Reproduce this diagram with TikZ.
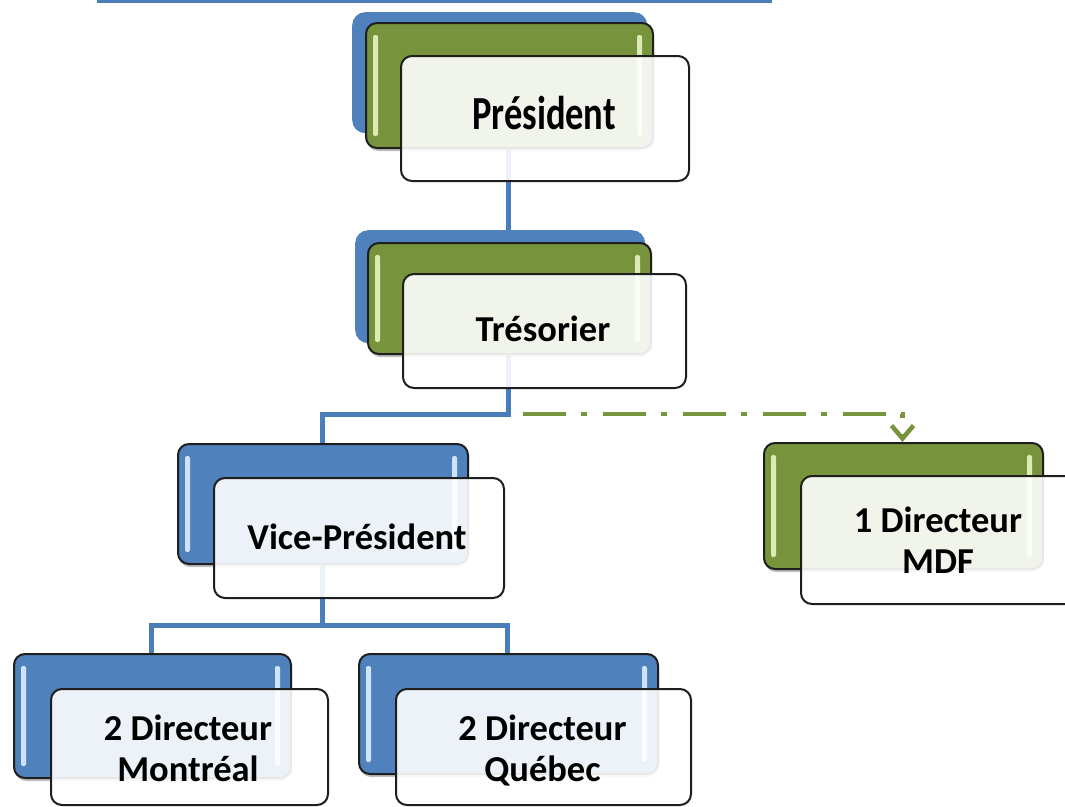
\documentclass[tikz,border=0pt]{standalone}
\usepackage{graphicx}
\usepackage{fontspec}
\setmainfont{Carlito}
\usetikzlibrary{arrows.meta,shadows}
\definecolor{orgblue}{HTML}{4F81BD}
\definecolor{orggreen}{HTML}{77933C}
\definecolor{linkblue}{HTML}{4A7EBB}
\definecolor{edgedark}{HTML}{1E1E1E}
\definecolor{glossgreen}{HTML}{DCEBB4}
\definecolor{glossblue}{HTML}{CFE2F6}
\tikzset{
  boxbase/.style={anchor=north west, inner sep=0pt, rounded corners=11pt},
  shadowbox/.style={boxbase, fill=orgblue, draw=none, rounded corners=13pt},
  colourbox/.style={boxbase, draw=edgedark, line width=2pt,
    drop shadow={shadow xshift=1pt, shadow yshift=-3pt, opacity=0.25, fill=black}},
  bluebox/.style={colourbox, fill=orgblue,
    path picture={
      \fill[glossblue, rounded corners=2pt] ([xshift=7pt,yshift=-12pt]path picture bounding box.north west) rectangle ([xshift=12pt,yshift=12pt]path picture bounding box.south west);
      \fill[glossblue, rounded corners=2pt] ([xshift=-16pt,yshift=-12pt]path picture bounding box.north east) rectangle ([xshift=-11pt,yshift=12pt]path picture bounding box.south east);}},
  greenbox/.style={colourbox, fill=orggreen,
    path picture={
      \fill[glossgreen, rounded corners=2pt] ([xshift=7pt,yshift=-12pt]path picture bounding box.north west) rectangle ([xshift=12pt,yshift=12pt]path picture bounding box.south west);
      \fill[glossgreen, rounded corners=2pt] ([xshift=-16pt,yshift=-12pt]path picture bounding box.north east) rectangle ([xshift=-11pt,yshift=12pt]path picture bounding box.south east);}},
  whitebox/.style={boxbase, fill=white, fill opacity=0.9, draw=edgedark, line width=2pt},
  boxtext/.style={anchor=base, inner sep=0pt, text=black,
    font=\bfseries\fontsize{36.5}{41}\selectfont},
  orglink/.style={draw=linkblue, line width=5pt},
  dashlink/.style={draw=orggreen, line width=4.5pt,
    dash pattern=on 43pt off 15pt on 6pt off 16pt, dash phase=66pt},
}
\begin{document}
\begin{tikzpicture}[x=1pt,y=-1pt]
\useasboundingbox (0,0) rectangle (1065,806);
\clip (0,0) rectangle (1065,806);

% header rule
\coordinate (ruleL) at (97,1.5);
\coordinate (ruleR) at (772,1.5);
\draw[linkblue, line width=3pt] (ruleL) -- (ruleR);

% back (shadow) boxes
\node[shadowbox, minimum width=295pt, minimum height=121pt] (pb) at (352,12) {};
\node[shadowbox, minimum width=290pt, minimum height=113pt] (tb) at (355,230) {};

\path (365,22) coordinate (pgpos) (367,242) coordinate (tgpos);

% connectors (behind boxes)
\path (508.5,147) coordinate (pgS) (508.5,353) coordinate (tgS);
\draw[orglink] (pgS) -- (pgS |- tb.north);
\draw[orglink] (tgS) -- (508.5,414) coordinate (tj) -| (322,443) coordinate (vbN);
\draw[orglink] (322,563) coordinate (vbS) -- (322,625) coordinate (vj) -| (151.5,653) coordinate (mbN);
\draw[orglink] (vj) -| (507.5,653) coordinate (qbN);
\draw[dashlink, -{Straight Barb[length=13pt,width=22pt]}] (tj) -| (902.5,442) coordinate (mgN);

% President
\node[greenbox, minimum width=287pt, minimum height=125pt] (pg) at (pgpos) {};
\node[whitebox, minimum width=288pt, minimum height=125pt] (pw) at (400,55) {};
% Tresorier
\node[greenbox, minimum width=283pt, minimum height=111pt] (tg) at (tgpos) {};
\node[whitebox, minimum width=283pt, minimum height=114pt] (tw) at (402,273) {};
% Vice-President
\node[bluebox, minimum width=290pt, minimum height=120pt] (vb) at (177,443) {};
\node[whitebox, minimum width=290pt, minimum height=120pt] (vw) at (213,477) {};
% MDF
\node[greenbox, minimum width=279pt, minimum height=126pt] (mg) at (763,442) {};
\node[whitebox, minimum width=277pt, minimum height=128pt] (mw) at (800,475) {};
% Montreal
\node[bluebox, minimum width=277pt, minimum height=124pt] (mb) at (13,653) {};
\node[whitebox, minimum width=277pt, minimum height=116pt] (mtw) at (50,688) {};
% Quebec
\node[bluebox, minimum width=299pt, minimum height=120pt] (qb) at (358,653) {};
\node[whitebox, minimum width=295pt, minimum height=116pt] (qw) at (395,688) {};

% texts
\node[boxtext] (tpres) at (544,129) {\scalebox{1}[1.3]{Président}};
\node[boxtext] (ttres) at (543,341) {Trésorier};
\node[boxtext] (tvice) at (357,549) {Vice-Président};
\node[boxtext] (tmdf) at (938,532) {\begin{tabular}[t]{@{}c@{}}1 Directeur\\MDF\end{tabular}};
\node[boxtext] (tmtl) at (188,740) {\begin{tabular}[t]{@{}c@{}}2 Directeur\\Montréal\end{tabular}};
\node[boxtext] (tqc) at (542.5,740) {\begin{tabular}[t]{@{}c@{}}2 Directeur\\Québec\end{tabular}};
\end{tikzpicture}
\end{document}
